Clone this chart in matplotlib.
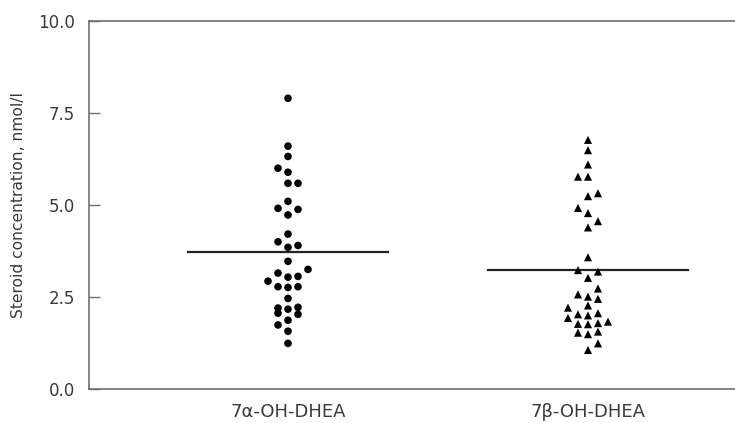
import matplotlib
matplotlib.use("Agg")
import matplotlib.pyplot as plt

categories = ["7\u03b1-OH-DHEA", "7\u03b2-OH-DHEA"]

alpha_values = [7.90, 6.60, 6.32, 6.00, 5.89, 5.59, 5.59, 5.10, 4.91, 4.88, 4.73,
                4.21, 4.00, 3.85, 3.90, 3.47, 3.15, 3.25, 3.04, 3.06, 2.93,
                2.78, 2.76, 2.78, 2.46, 2.20, 2.06, 2.17, 2.22, 2.03, 1.87,
                1.74, 1.57, 1.24]
alpha_slots = [0, 0, 0, -1, 0, 0, 1, 0, -1, 1, 0,
               0, -1, 0, 1, 0, -1, 2, 0, 1, -2,
               -1, 0, 1, 0, -1, -1, 0, 1, 1, 0,
               -1, 0, 0]

beta_values = [6.77, 6.49, 6.10, 5.77, 5.77, 5.24, 5.32, 4.92, 4.78, 4.56, 4.39,
               3.58, 3.23, 3.19, 3.02, 2.73, 2.57, 2.51, 2.45, 2.27, 2.21,
               2.03, 2.00, 2.06, 1.93, 1.83, 1.77, 1.76, 1.79, 1.53, 1.49,
               1.56, 1.24, 1.06]
beta_slots = [0, 0, 0, -1, 0, 0, 1, -1, 0, 1, 0,
              0, -1, 1, 0, 1, -1, 0, 1, 0, -2,
              -1, 0, 1, -2, 2, -1, 0, 1, -1, 0,
              1, 1, 0]

means = [3.71, 3.23]

yticks = [0.0, 2.5, 5.0, 7.5, 10.0]
ylabel = "Steroid concentration, nmol/l"

fig = plt.figure(figsize=(7.35, 4.23), dpi=100)
ax = fig.add_axes([89 / 735, 34 / 423, 1 - 89 / 735, 368 / 423])

slot_w = 10 / 300
axis_col = "#707070"
text_col = "#3a3a3a"

ax.scatter([1 + s * slot_w for s in alpha_slots], alpha_values, marker="o",
           s=30, color="black", edgecolors="none", zorder=3)
ax.scatter([2 + s * slot_w for s in beta_slots], beta_values, marker="^",
           s=34, color="black", edgecolors="none", zorder=3)

for i, m in enumerate(means):
    ax.plot([i + 1 - 1 / 3, i + 1 + 1 / 3], [m, m], color="#222222", lw=1.6, zorder=2)

ax.set_xlim(1 - 199 / 300, 2 + 147 / 300)
ax.set_ylim(0, 10)
ax.set_yticks(yticks)
ax.set_yticklabels([f"{t:.1f}" for t in yticks])
ax.set_xticks([1, 2])
ax.set_xticklabels(categories)

for side in ["left", "top", "bottom"]:
    ax.spines[side].set_color(axis_col)
    ax.spines[side].set_linewidth(1.2)
ax.spines["right"].set_visible(False)

ax.tick_params(axis="y", direction="in", length=8, color=axis_col, width=1,
               labelsize=12, labelcolor=text_col, pad=10)
ax.tick_params(axis="x", length=0, labelsize=13, labelcolor=text_col, pad=10)
ax.set_ylabel(ylabel, fontsize=11.2, color=text_col, labelpad=9)

fig.savefig("out.png", dpi=100)
